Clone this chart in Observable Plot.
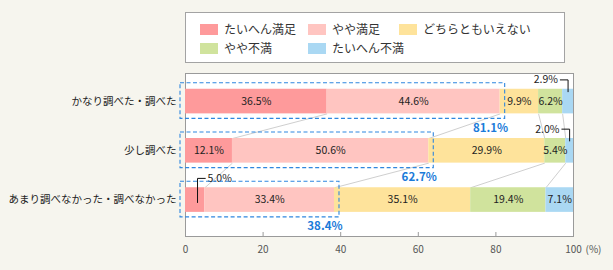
<!DOCTYPE html>
<html>
<head>
<meta charset="utf-8">
<script src="https://cdn.jsdelivr.net/npm/d3@7"></script>
<script src="https://cdn.jsdelivr.net/npm/@observablehq/plot@0.6"></script>
<style>
  body { margin: 0; background: #f6f5ee; font-family: "Noto Sans CJK JP", sans-serif; }
  #wrap { position: relative; width: 613px; height: 270px; }
  #legend { position: absolute; left: 185px; top: 12px; width: 380px; height: 51px;
            background: #fff; border: 1px solid #a3a3a3; box-sizing: border-box; }
  .item { position: absolute; display: flex; align-items: center; font-size: 12px; color: #333; line-height: 14px; }
  .sw { width: 18px; height: 11px; margin-right: 6px; }
  #chart { position: absolute; left: 0; top: 0; }
</style>
</head>
<body>
<div id="wrap">
  <div id="chart"></div>
  <div id="legend"></div>
</div>
<script>
// Survey groups (rows) and satisfaction levels (stack order)
const categories = ["かなり調べた・調べた", "少し調べた", "あまり調べなかった・調べなかった"];
const levels = ["たいへん満足", "やや満足", "どちらともいえない", "やや不満", "たいへん不満"];
const colors = ["#fe9a9b", "#ffc5c1", "#fee39b", "#d0e39d", "#aad8f3"];

// Share (%) per level, one value per row
const veryOk   = [36.5, 12.1, 5.0];
const ok       = [44.6, 50.6, 33.4];
const neutral  = [9.9, 29.9, 35.1];
const notOk    = [6.2, 5.4, 19.4];
const veryNot  = [2.9, 2.0, 7.1];

const xTicks = [0, 20, 40, 60, 80, 100];

// Segments whose value is written outside the bar with a leader
const callouts = [
  {row: 0, level: 4, side: "left"},
  {row: 1, level: 4, side: "left"},
  {row: 2, level: 0, side: "right"}
];

const series = [veryOk, ok, neutral, notOk, veryNot];
const half = 0.25; // half bar thickness in row units

const segments = [];
categories.forEach((c, row) => {
  let acc = 0;
  series.forEach((vals, k) => {
    const v = vals[row];
    segments.push({row, level: levels[k], k, value: v, x1: acc, x2: acc + v});
    acc += v;
  });
});
const seg = (row, k) => segments.find(s => s.row === row && s.k === k);
const isCallout = s => callouts.some(c => c.row === s.row && c.level === s.k);
const pct = v => d3.format(".1f")(v) + "%";

// Top-two ("satisfied") totals per row
const satisfied = categories.map((c, row) => ({row, total: veryOk[row] + ok[row]}));

// Lines joining matching stack boundaries of neighbouring rows
const joins = [];
for (let row = 0; row < categories.length - 1; row++) {
  for (let k = 0; k < levels.length - 1; k++) {
    joins.push({x1: seg(row, k).x2, y1: row + half, x2: seg(row + 1, k).x2, y2: row + 1 - half});
  }
}

// Leader polylines and text anchors for the outside labels
const leaderPts = [];
const calloutText = [];
callouts.forEach((c, i) => {
  const s = seg(c.row, c.level);
  const mid = (s.x1 + Math.min(s.x2, 100)) / 2 + (c.side === "left" ? 0 : 0.6);
  const yLab = c.row - half - 0.19;
  const dir = c.side === "left" ? -1 : 1;
  leaderPts.push({id: i, x: mid + dir * 2.0, y: yLab});
  leaderPts.push({id: i, x: mid, y: yLab});
  leaderPts.push({id: i, x: mid, y: c.row - half + (c.side === "left" ? 0.05 : 0.3)});
  calloutText.push({x: mid + dir * 2.6, y: yLab, text: pct(s.value), side: c.side});
});

const chart = Plot.plot({
  width: 613,
  height: 270,
  marginLeft: 185,
  marginRight: 40,
  marginTop: 73,
  marginBottom: 34,
  style: {background: "transparent", fontFamily: "Noto Sans CJK JP, sans-serif"},
  x: {domain: [0, 100]},
  y: {domain: [-0.57, 2.74], range: [73, 236]},
  color: {domain: levels, range: colors},
  marks: [
    Plot.frame({fill: "white", stroke: "#9a9a9a"}),
    Plot.ruleX(xTicks.slice(1, -1), {stroke: "#9a9a9a", insetTop: 159}),
    Plot.axisX(xTicks, {tickSize: 0, tickPadding: 9, fontSize: 10, fill: "#555", label: null}),
    Plot.text(["(%)"], {x: 100, frameAnchor: "bottom", dx: 12, dy: 9, textAnchor: "start", lineAnchor: "top", fontSize: 10, fill: "#555"}),
    Plot.axisY([0, 1, 2], {tickFormat: i => categories[i], tickSize: 0, tickPadding: 9, fontSize: 10.5, fill: "#222", label: null}),
    Plot.link(joins, {x1: "x1", y1: "y1", x2: "x2", y2: "y2", stroke: "#cfcfcf", strokeWidth: 1}),
    Plot.rect(segments, {x1: "x1", x2: d => Math.min(d.x2, 100), y1: d => d.row - half, y2: d => d.row + half, fill: "level"}),
    Plot.text(segments.filter(s => !isCallout(s)), {
      x: d => (d.x1 + Math.min(d.x2, 100)) / 2, y: "row", text: d => pct(d.value),
      fontSize: 10.5, fill: "#222"
    }),
    Plot.line(leaderPts, {x: "x", y: "y", z: "id", stroke: "#111", strokeWidth: 1, curve: "linear"}),
    Plot.text(calloutText.filter(d => d.side === "left"), {x: "x", y: "y", text: "text", textAnchor: "end", fontSize: 10.5, fill: "#222"}),
    Plot.text(calloutText.filter(d => d.side === "right"), {x: "x", y: "y", text: "text", textAnchor: "start", fontSize: 10.5, fill: "#222"}),
    Plot.rect(satisfied, {
      x1: 0, x2: "total", y1: d => d.row - half, y2: d => d.row + half,
      insetLeft: -5, insetRight: -5, insetTop: -6, insetBottom: -5,
      fill: "none", stroke: "#2f87df", strokeWidth: 1.1, strokeDasharray: "4,2.5"
    }),
    Plot.text(satisfied, {
      x: "total", y: d => d.row + half, text: d => pct(d.total),
      dx: 8, dy: 14, textAnchor: "end", fontSize: 11.5, fontWeight: "bold", fill: "#1b7bd9"
    })
  ]
});
document.getElementById("chart").append(chart);

// Legend: two rows, three columns
const legend = document.getElementById("legend");
const slots = [[14, 9], [122, 9], [213, 9], [14, 28], [122, 28]];
levels.forEach((name, i) => {
  const el = document.createElement("div");
  el.className = "item";
  el.style.left = slots[i][0] + "px";
  el.style.top = slots[i][1] + "px";
  el.innerHTML = `<span class="sw" style="background:${colors[i]}"></span><span>${name}</span>`;
  legend.append(el);
});
</script>
</body>
</html>
